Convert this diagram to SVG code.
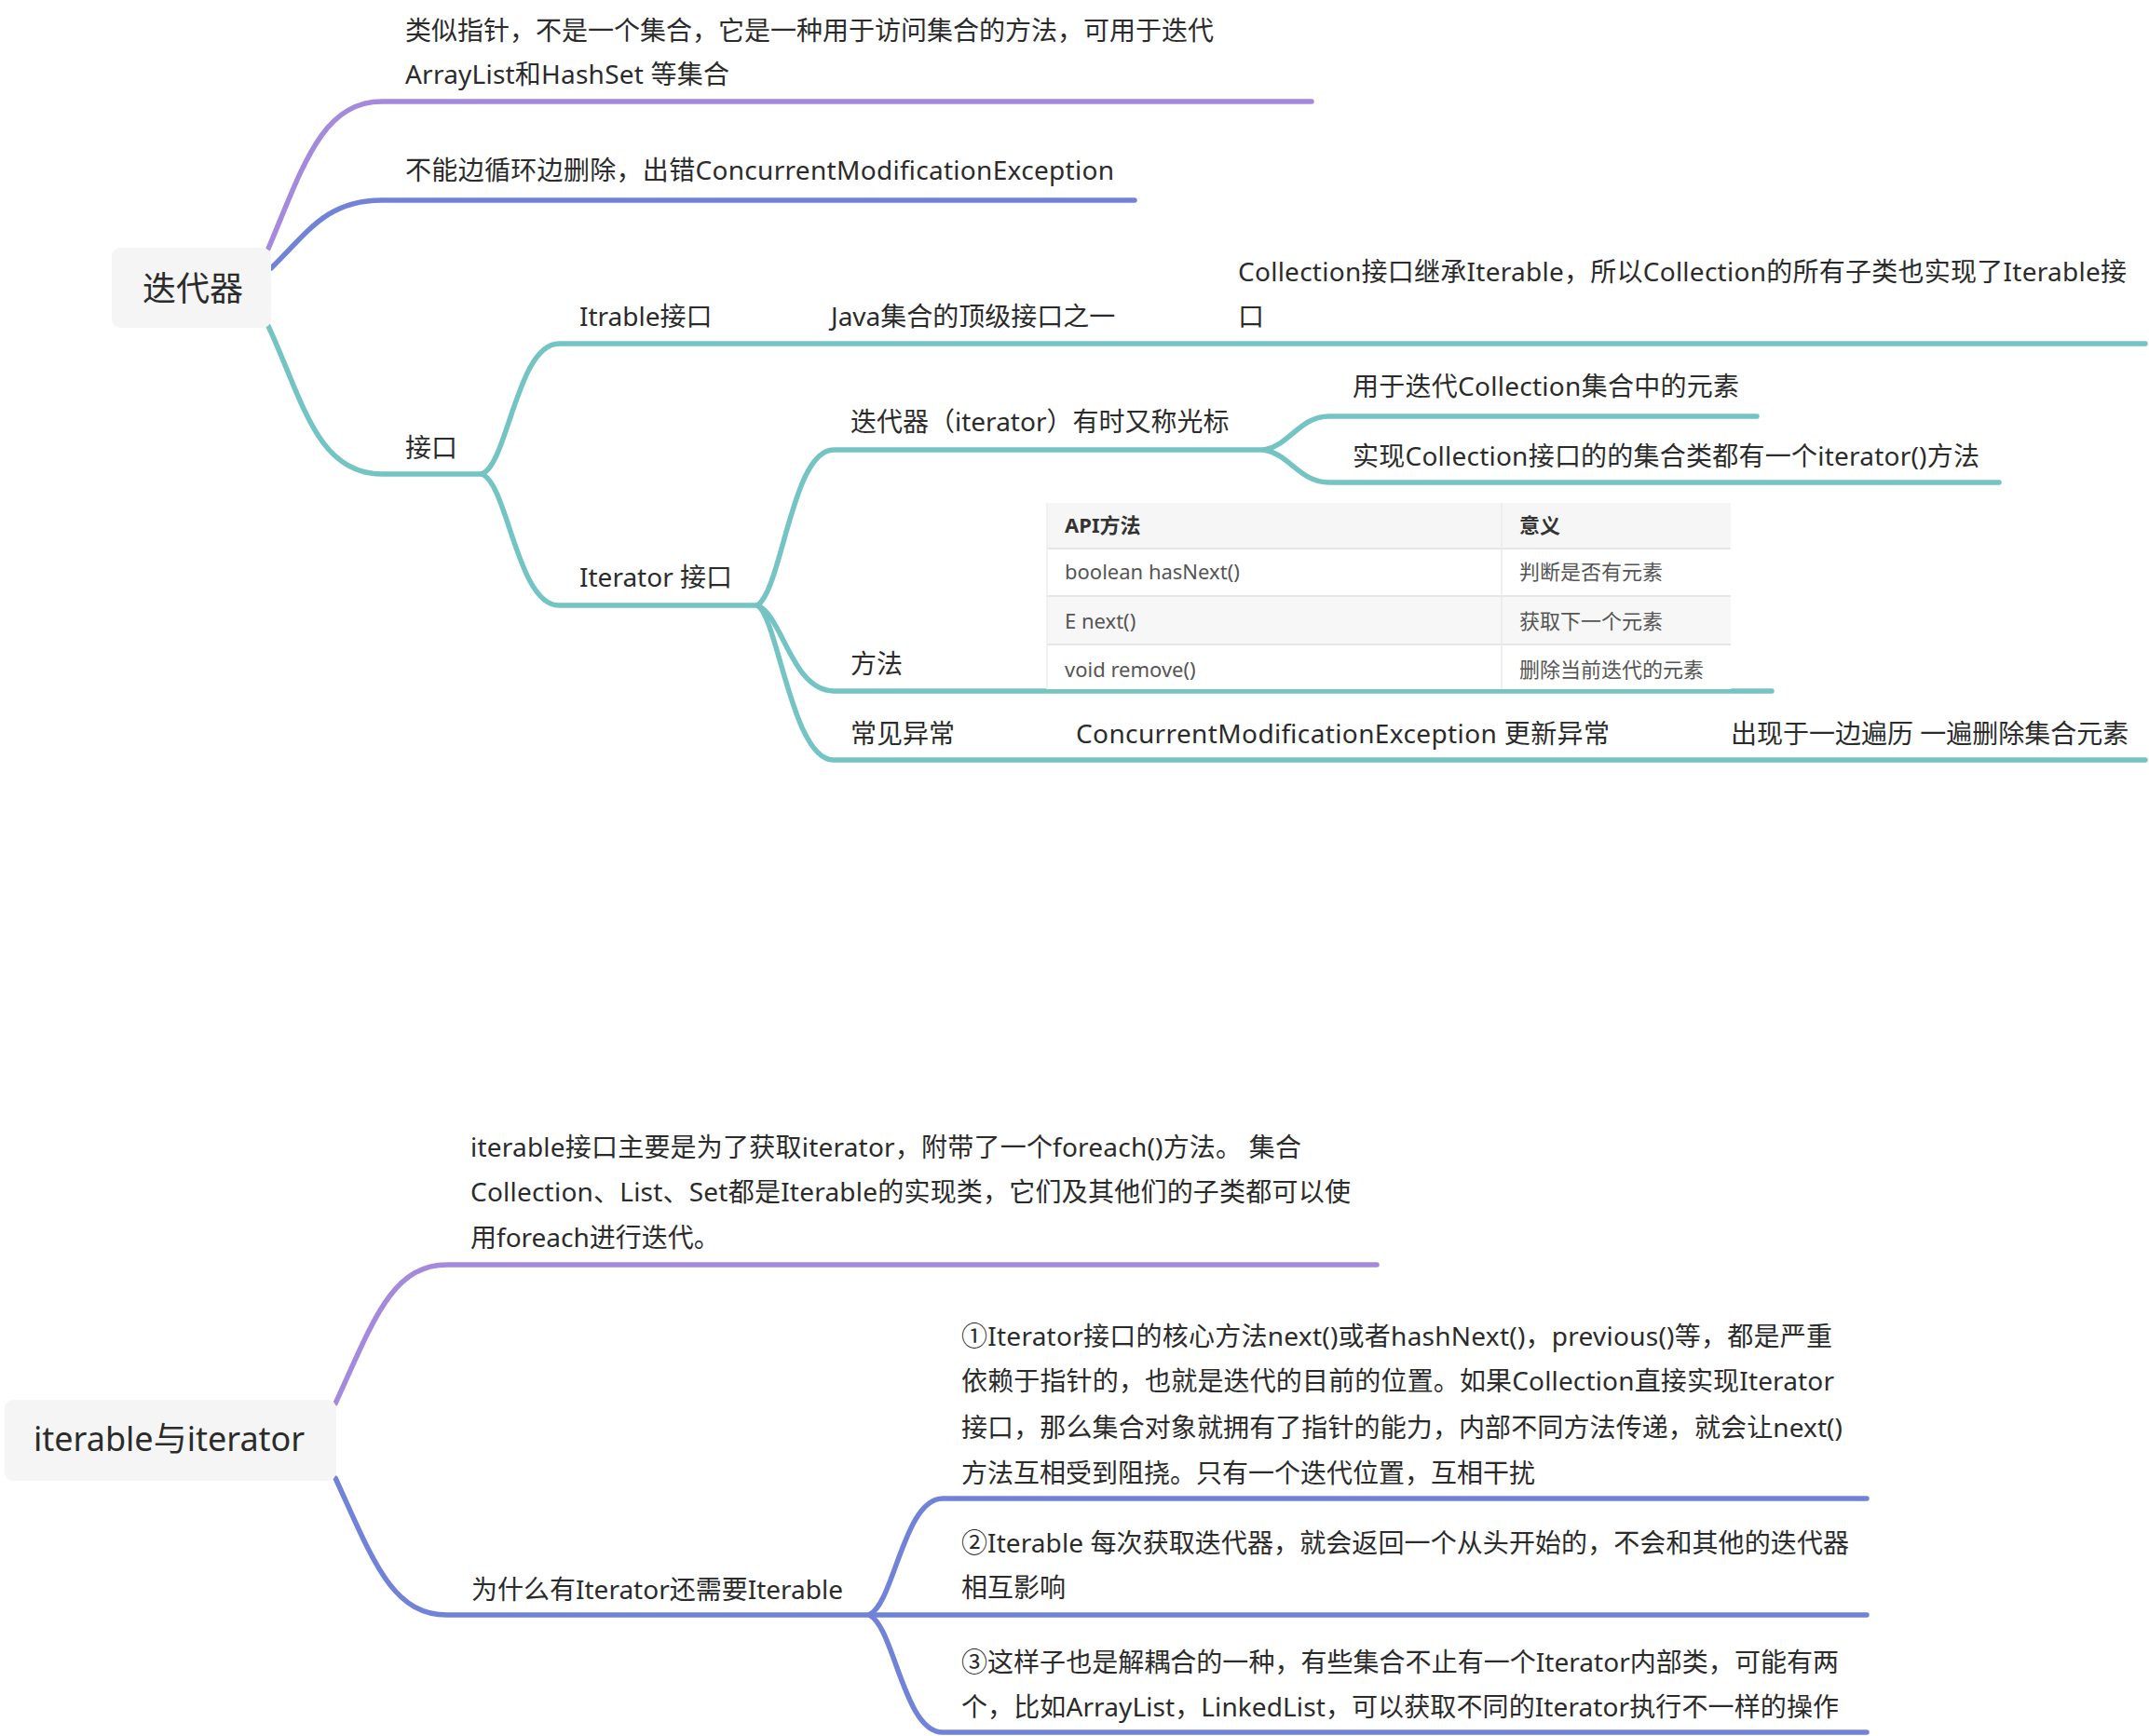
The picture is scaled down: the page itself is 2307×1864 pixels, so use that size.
<svg xmlns="http://www.w3.org/2000/svg" width="2307" height="1864" viewBox="0 0 2307 1864">
<style>
text{font-family:"Noto Sans","Noto Sans CJK SC",sans-serif;fill:#2b2b2b;}
.t{font-size:28px;}
.root{font-size:36px;}
.th{font-size:22px;font-weight:bold;fill:#333;}
.td{font-size:22px;fill:#555;}
.c{fill:none;stroke-width:5.5;stroke-linecap:round;stroke-linejoin:round;}
.p{stroke:#a489dc;}
.b{stroke:#7182d9;}
.g{stroke:#73c4c3;}
.box{fill:#f5f5f5;}
</style>
<rect width="2307" height="1864" fill="#ffffff"/>
<g id="connectors">
<path class="c p" d="M288,267 C325,180 345,109 410,109 L1408,109"/>
<path class="c b" d="M291,288 C330,250 350,215 410,215 L1218,215"/>
<path class="c g" d="M288,350 C325,430 340,509 410,509 L517,509"/>
<path class="c g" d="M517,509 C545,500 555,369 600,369 L2303,369"/>
<path class="c g" d="M517,509 C545,518 555,650 600,650 L813,650"/>
<path class="c g" d="M813,650 C840,632 850,483 895,483 L1357,483"/>
<path class="c g" d="M1357,483 C1385,478 1395,447 1427,447 L1886,447"/>
<path class="c g" d="M1357,483 C1385,488 1395,518 1427,518 L2146,518"/>
<path class="c g" d="M813,650 C840,660 850,742 895,742 L1902,742"/>
<path class="c g" d="M813,650 C835,662 850,816 895,816 L2303,816"/>
<path class="c p" d="M360,1507 C400,1420 420,1358 480,1358 L1478,1358"/>
<path class="c b" d="M360,1587 C400,1674 420,1734 480,1734 L2004,1734"/>
<path class="c b" d="M933,1734 C960,1722 970,1609 1012,1609 L2004,1609"/>
<path class="c b" d="M933,1734 C960,1746 970,1860 1012,1860 L2004,1860"/>
</g>
<g id="root-iterator">
<rect class="box" x="120" y="266" width="171" height="86" rx="9"/>
<text class="root" x="153" y="323">迭代器</text>
</g>
<g id="node-pointer">
<text class="t" x="435" y="43">类似指针，不是一个集合，它是一种用于访问集合的方法，可用于迭代</text>
<text class="t" x="435" y="90" textLength="348" lengthAdjust="spacing">ArrayList和HashSet 等集合</text>
</g>
<g id="node-no-delete">
<text class="t" x="435" y="193" textLength="761" lengthAdjust="spacing">不能边循环边删除，出错ConcurrentModificationException</text>
</g>
<g id="node-interface">
<text class="t" x="435" y="491">接口</text>
</g>
<g id="node-itrable">
<text class="t" x="622" y="350">Itrable接口</text>
</g>
<g id="node-java-top">
<text class="t" x="892" y="350">Java集合的顶级接口之一</text>
</g>
<g id="node-collection-inherit">
<text class="t" x="1329" y="302" textLength="954" lengthAdjust="spacing">Collection接口继承Iterable，所以Collection的所有子类也实现了Iterable接</text>
<text class="t" x="1329" y="350">口</text>
</g>
<g id="node-iterator-interface">
<text class="t" x="622" y="630">Iterator 接口</text>
</g>
<g id="node-cursor">
<text class="t" x="913" y="463">迭代器（iterator）有时又称光标</text>
</g>
<g id="node-for-collection">
<text class="t" x="1452" y="425" textLength="415" lengthAdjust="spacing">用于迭代Collection集合中的元素</text>
</g>
<g id="node-impl-collection">
<text class="t" x="1452" y="500" textLength="673" lengthAdjust="spacing">实现Collection接口的的集合类都有一个iterator()方法</text>
</g>
<g id="node-methods">
<text class="t" x="913" y="723">方法</text>
<g id="api-table">
<rect x="1124" y="540" width="734" height="49" fill="#f6f6f6"/>
<rect x="1124" y="589" width="734" height="51" fill="#ffffff"/>
<rect x="1124" y="640" width="734" height="52" fill="#f7f7f7"/>
<rect x="1124" y="692" width="734" height="48" fill="#ffffff"/>
<line x1="1124" y1="589" x2="1858" y2="589" stroke="#e6e6e6" stroke-width="2"/>
<line x1="1124" y1="640" x2="1858" y2="640" stroke="#e6e6e6" stroke-width="2"/>
<line x1="1124" y1="692" x2="1858" y2="692" stroke="#e6e6e6" stroke-width="2"/>
<line x1="1124" y1="540" x2="1124" y2="740" stroke="#eeeeee" stroke-width="1.5"/>
<line x1="1612" y1="540" x2="1612" y2="740" stroke="#eaeaea" stroke-width="1.5"/>
<text class="th" x="1143" y="572">API方法</text>
<text class="th" x="1631" y="572">意义</text>
<text class="td" x="1143" y="622">boolean hasNext()</text>
<text class="td" x="1631" y="622">判断是否有元素</text>
<text class="td" x="1143" y="675">E next()</text>
<text class="td" x="1631" y="675">获取下一个元素</text>
<text class="td" x="1143" y="727">void remove()</text>
<text class="td" x="1631" y="727">删除当前迭代的元素</text>
</g>
</g>
<g id="node-exceptions">
<text class="t" x="913" y="798">常见异常</text>
</g>
<g id="node-cme">
<text class="t" x="1155" y="798" textLength="573" lengthAdjust="spacing">ConcurrentModificationException 更新异常</text>
</g>
<g id="node-cme-cause">
<text class="t" x="1858" y="798">出现于一边遍历 一遍删除集合元素</text>
</g>
<g id="root-iterable-iterator">
<rect class="box" x="5" y="1503" width="356" height="87" rx="9"/>
<text class="root" x="36" y="1558">iterable与iterator</text>
</g>
<g id="node-iterable-purpose">
<text class="t" x="505" y="1242" textLength="892" lengthAdjust="spacing">iterable接口主要是为了获取iterator，附带了一个foreach()方法。 集合</text>
<text class="t" x="505" y="1290" textLength="945" lengthAdjust="spacing">Collection、List、Set都是Iterable的实现类，它们及其他们的子类都可以使</text>
<text class="t" x="505" y="1339">用foreach进行迭代。</text>
</g>
<g id="node-why">
<text class="t" x="506" y="1717">为什么有Iterator还需要Iterable</text>
</g>
<g id="node-reason-1">
<text class="t" x="1032" y="1445" textLength="935" lengthAdjust="spacing">①Iterator接口的核心方法next()或者hashNext()，previous()等，都是严重</text>
<text class="t" x="1032" y="1493" textLength="937" lengthAdjust="spacing">依赖于指针的，也就是迭代的目前的位置。如果Collection直接实现Iterator</text>
<text class="t" x="1032" y="1543" textLength="946" lengthAdjust="spacing">接口，那么集合对象就拥有了指针的能力，内部不同方法传递，就会让next()</text>
<text class="t" x="1032" y="1592">方法互相受到阻挠。只有一个迭代位置，互相干扰</text>
</g>
<g id="node-reason-2">
<text class="t" x="1032" y="1667" textLength="953" lengthAdjust="spacing">②Iterable 每次获取迭代器，就会返回一个从头开始的，不会和其他的迭代器</text>
<text class="t" x="1032" y="1715">相互影响</text>
</g>
<g id="node-reason-3">
<text class="t" x="1032" y="1795" textLength="942" lengthAdjust="spacing">③这样子也是解耦合的一种，有些集合不止有一个Iterator内部类，可能有两</text>
<text class="t" x="1032" y="1843" textLength="942" lengthAdjust="spacing">个，比如ArrayList，LinkedList，可以获取不同的Iterator执行不一样的操作</text>
</g>
</svg>
